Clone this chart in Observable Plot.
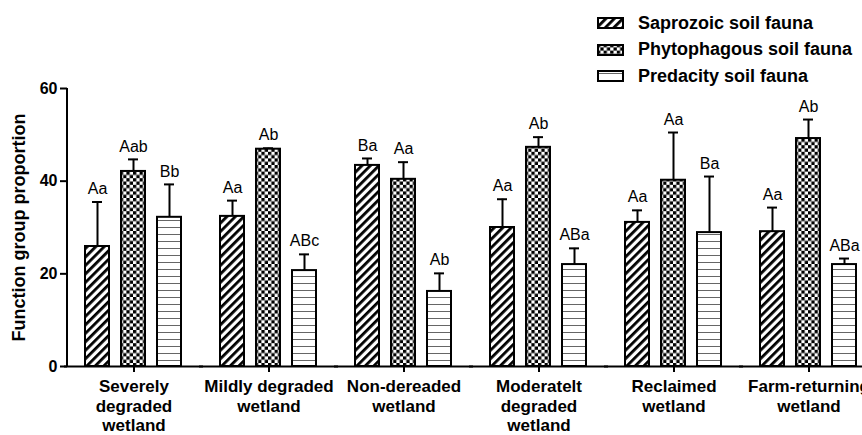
<!DOCTYPE html>
<html><head><meta charset="utf-8">
<script src="https://cdn.jsdelivr.net/npm/d3@7"></script>
<script src="https://cdn.jsdelivr.net/npm/@observablehq/plot@0.6"></script>
<style>
html,body{margin:0;padding:0;background:#fff;overflow:hidden;width:862px;height:435px;}
#wrap{position:relative;width:862px;height:435px;overflow:hidden;}
#legend{position:absolute;left:597px;top:10px;font-family:"Liberation Sans",Arial,sans-serif;font-weight:bold;font-size:18px;color:#000;white-space:nowrap;}
.row{display:flex;align-items:center;height:26.5px;}
.row svg{margin-right:14px;display:block;}
</style></head><body>
<svg width="0" height="0" style="position:absolute">
  <defs>
    <pattern id="pat-sap" patternUnits="userSpaceOnUse" width="6" height="6" patternTransform="rotate(45)">
      <rect width="6" height="6" fill="#fff"/><rect width="2.8" height="6" fill="#000"/>
    </pattern>
    <pattern id="pat-phy" patternUnits="userSpaceOnUse" width="6.6" height="6.6">
      <rect width="6.6" height="6.6" fill="#fff"/><rect width="3.3" height="3.3" fill="#000"/><rect x="3.3" y="3.3" width="3.3" height="3.3" fill="#000"/>
    </pattern>
    <pattern id="pat-pred" patternUnits="userSpaceOnUse" width="7" height="7">
      <rect width="7" height="7" fill="#fff"/><rect y="3" width="7" height="1" fill="#666"/>
    </pattern>
  </defs>
</svg>
<div id="wrap"><div id="chart"></div><div id="legend"></div></div>
<script>
const groups = ["Severely degraded wetland", "Mildly degraded wetland", "Non-dereaded wetland", "Moderatelt degraded wetland", "Reclaimed wetland", "Farm-returning wetland"];
const groupTickLabels = ["Severely\ndegraded\nwetland", "Mildly degraded\nwetland", "Non-dereaded\nwetland", "Moderatelt\ndegraded\nwetland", "Reclaimed\nwetland", "Farm-returning\nwetland"];
const series = ["Saprozoic soil fauna", "Phytophagous soil fauna", "Predacity soil fauna"];
const seriesPatterns = ["pat-sap", "pat-phy", "pat-pred"];

const saprozoic = [25.9, 32.4, 43.4, 30.0, 31.1, 29.1];
const saprozoicErr = [9.6, 3.4, 1.5, 6.1, 2.6, 5.2];
const saprozoicSig = ["Aa", "Aa", "Ba", "Aa", "Aa", "Aa"];

const phytophagous = [42.1, 46.9, 40.4, 47.3, 40.2, 49.2];
const phytophagousErr = [2.6, 0.2, 3.7, 2.2, 10.3, 4.1];
const phytophagousSig = ["Aab", "Ab", "Aa", "Ab", "Aa", "Ab"];

const predacity = [32.2, 20.7, 16.2, 22.0, 28.9, 22.0];
const predacityErr = [7.1, 3.5, 3.9, 3.5, 12.1, 1.3];
const predacitySig = ["Bb", "ABc", "Ab", "ABa", "Ba", "ABa"];

const yTicks = [0, 20, 40, 60];
const yDomain = [0, 60];
const yLabel = "Function group proportion";

const seriesValues = [saprozoic, phytophagous, predacity];
const seriesErrs = [saprozoicErr, phytophagousErr, predacityErr];
const seriesSigs = [saprozoicSig, phytophagousSig, predacitySig];

const rows = [];
groups.forEach((g, i) => {
  series.forEach((s, j) => {
    rows.push({
      group: g, series: s,
      value: seriesValues[j][i],
      top: seriesValues[j][i] + seriesErrs[j][i],
      sig: seriesSigs[j][i],
      pat: `url(#${seriesPatterns[j]})`
    });
  });
});
const tickLabelMap = new Map(groups.map((g, i) => [g, groupTickLabels[i]]));
const firstFacet = [{group: groups[0], y1: yDomain[0], y2: yDomain[1], label: yLabel}];

const font = "'Liberation Sans', Arial, Helvetica, sans-serif";

const plot = Plot.plot({
  width: 875,
  height: 435,
  marginLeft: 66,
  marginRight: 0,
  marginTop: 88,
  marginBottom: 69,
  style: {maxWidth: "none", fontFamily: font, background: "#fff", overflow: "visible", color: "#000"},
  fx: {domain: groups, paddingInner: 0.015, paddingOuter: 0, label: null},
  x: {domain: series, paddingInner: 0.324, paddingOuter: 0.462, axis: null},
  y: {domain: yDomain, label: null},
  color: {type: "identity"},
  marks: [
    // x axis baseline spanning all facets
    Plot.ruleY([0], {stroke: "#000", strokeWidth: 2, insetLeft: -3, insetRight: -3}),
    // y axis line at the left edge of the first facet
    Plot.rect(firstFacet, {fx: "group", y1: "y1", y2: "y2", fill: "#000", insetLeft: -1, insetRight: 132}),
    Plot.ruleX(rows, {fx: "group", x: "series", y1: "value", y2: "top", stroke: "#000", strokeWidth: 2}),
    Plot.tickY(rows, {fx: "group", x: "series", y: "top", stroke: "#000", strokeWidth: 2, insetLeft: 7, insetRight: 7}),
    Plot.barY(rows, {fx: "group", x: "series", y: "value", fill: "pat", stroke: "#000", strokeWidth: 2}),
    Plot.text(rows, {fx: "group", x: "series", y: "top", text: "sig", dy: -13, fontSize: 16, fill: "#000"}),
    Plot.axisY({ticks: yTicks, tickSize: 7, tickPadding: 3, fontSize: 16, fontWeight: "bold", strokeWidth: 2, label: null}),
    Plot.text(firstFacet, {fx: "group", text: "label", frameAnchor: "left", textAnchor: "middle", rotate: -90, dx: -48, fontSize: 18, fontWeight: "bold", fill: "#000"}),
    Plot.axisFx({anchor: "bottom", tickSize: 6, tickPadding: 6, fontSize: 17, fontWeight: "bold", strokeWidth: 2,
      tickFormat: d => tickLabelMap.get(d), lineHeight: 1.15, label: null})
  ]
});
document.getElementById("chart").appendChild(plot);

// Legend
const legend = d3.select("#legend");
series.forEach((s, j) => {
  const row = legend.append("div").attr("class", "row");
  const sw = row.append("svg").attr("width", 27).attr("height", 12);
  sw.append("rect").attr("x", 1).attr("y", 1).attr("width", 25).attr("height", 10)
    .attr("fill", `url(#${seriesPatterns[j]})`).attr("stroke", "#000").attr("stroke-width", 2);
  row.append("span").text(s);
});
</script>
</body></html>
